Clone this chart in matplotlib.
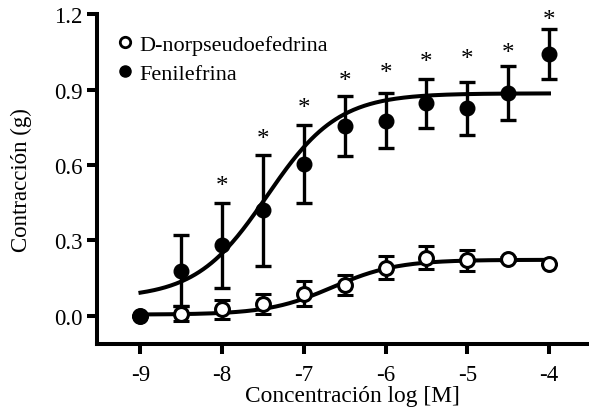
import numpy as np
import matplotlib
matplotlib.use("Agg")
import matplotlib.pyplot as plt
from matplotlib.lines import Line2D

plt.rcParams['font.family'] = ['Liberation Serif', 'DejaVu Serif']

# data
log_conc = [-9, -8.5, -8, -7.5, -7, -6.5, -6, -5.5, -5, -4.5, -4]
feni_mean = [0.0, 0.18, 0.28, 0.42, 0.605, 0.755, 0.777, 0.846, 0.826, 0.887, 1.043]
feni_sem = [0.0, 0.14, 0.17, 0.22, 0.156, 0.118, 0.108, 0.098, 0.105, 0.108, 0.10]
norp_mean = [0.0, 0.008, 0.027, 0.046, 0.088, 0.122, 0.192, 0.231, 0.221, 0.226, 0.205]
norp_sem = [0.0, 0.03, 0.038, 0.04, 0.05, 0.04, 0.045, 0.045, 0.042, 0.008, 0.0]
star_x = [-8, -7.5, -7, -6.5, -6, -5.5, -5, -4.5, -4]
star_y = [0.515, 0.705, 0.825, 0.935, 0.965, 1.01, 1.02, 1.045, 1.175]

# fitted sigmoid parameters (bottom, top, logEC50, hill)
feni_fit = (0.07, 0.885, -7.45, 1.0)
norp_fit = (0.005, 0.223, -6.65, 1.1)

def hill(x, b, t, ec, h):
    return b + (t - b) / (1 + 10 ** ((ec - x) * h))

fig = plt.figure(figsize=(5.89, 4.10), dpi=100)
ax = fig.add_axes([0.165, 0.1585, 0.835, 0.8045])

xs = np.linspace(-9, -4, 300)
ax.plot(xs, hill(xs, *norp_fit), color='black', lw=2.9, zorder=2)
ax.plot(xs, hill(xs, *feni_fit), color='black', lw=2.9, zorder=2)

ax.errorbar(log_conc, norp_mean, yerr=norp_sem, fmt='o', mfc='white', mec='black',
            mew=2.2, ms=10, color='black', ecolor='black', elinewidth=2.4,
            capsize=5.5, capthick=2.4, zorder=3)
ax.errorbar(log_conc, feni_mean, yerr=feni_sem, fmt='o', mfc='black', mec='black',
            ms=10.5, color='black', ecolor='black', elinewidth=2.4,
            capsize=5.5, capthick=2.4, zorder=4)

for sx, sy in zip(star_x, star_y):
    ax.text(sx, sy, '*', ha='center', va='center', fontsize=18, color='black')

ax.set_xlim(-9.53, -3.51)
ax.set_ylim(-0.112, 1.2)
ax.set_xticks([-9, -8, -7, -6, -5, -4])
ax.set_xticklabels(['-9', '-8', '-7', '-6', '-5', '-4'])
ax.set_yticks([0.0, 0.3, 0.6, 0.9, 1.2])
ax.set_yticklabels(['0.0', '0.3', '0.6', '0.9', '1.2'])
ax.spines['top'].set_visible(False)
ax.spines['right'].set_visible(False)
for s in ['left', 'bottom']:
    ax.spines[s].set_linewidth(2.9)
ax.tick_params(axis='x', direction='out', length=7.5, width=2.9, labelsize=16.5, pad=7)
ax.tick_params(axis='y', direction='out', length=7.5, width=2.9, labelsize=16.5, pad=3)
ax.set_xlabel('Concentración log [M]', fontsize=16.8, labelpad=0)
ax.xaxis.label.set_x(0.52)
ax.set_ylabel('Contracción (g)', fontsize=16.5, labelpad=16)

h1 = Line2D([], [], marker='o', ls='none', mfc='white', mec='black', mew=2.0, ms=7.5)
h2 = Line2D([], [], marker='o', ls='none', mfc='black', mec='black', ms=8)
ax.legend([h1, h2], ['D-norpseudoefedrina', 'Fenilefrina'], loc='upper left',
          bbox_to_anchor=(0.0, 0.985), frameon=False, fontsize=16,
          handletextpad=0.1, handlelength=1.1, labelspacing=0.35, borderaxespad=0.3)

fig.savefig('out.png', dpi=100)
